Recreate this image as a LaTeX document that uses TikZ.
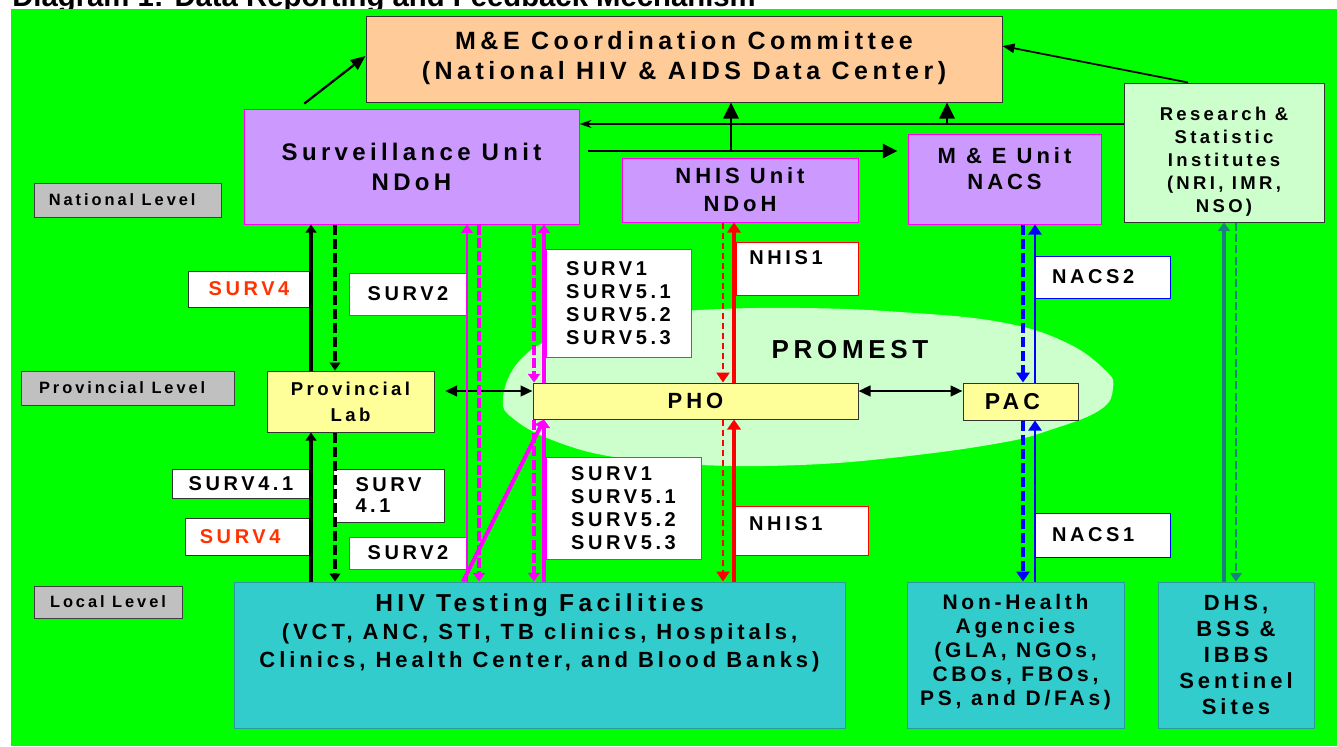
\documentclass[tikz,border=0pt]{standalone}
\usepackage{fontspec}
\setmainfont{Liberation Sans}
\newfontfamily\lsf{Liberation Sans}[LetterSpace=18]
\usetikzlibrary{arrows.meta}
\newcommand\fpx[2]{\fontsize{\dimexpr #1pt*3/4\relax}{\dimexpr #2pt*3/4\relax}\selectfont}
\newcommand\dn[1]{\rule[-#1]{0pt}{#1}}
\newcommand\upr[1]{\rule{0pt}{#1}}
\newcommand\padr[1]{\rule{#1}{0pt}}
\definecolor{bg}{HTML}{00FF00}
\definecolor{peach}{HTML}{FFCC99}
\definecolor{lav}{HTML}{CC99FF}
\definecolor{mint}{HTML}{CCFFCC}
\definecolor{lemon}{HTML}{FFFF99}
\definecolor{aqua}{HTML}{33CCCC}
\definecolor{aquaedge}{HTML}{2A9A9A}
\definecolor{grayb}{HTML}{C0C0C0}
\definecolor{mag}{HTML}{FF00FF}
\definecolor{redo}{HTML}{FF3300}
\definecolor{tealar}{HTML}{1A8080}
\definecolor{pureblue}{HTML}{0000FF}
\definecolor{purered}{HTML}{FF0000}
\begin{document}
\begin{tikzpicture}[x=0.75pt,y=-0.75pt,
  wh/.style 2 args={minimum width=#1*0.75pt, minimum height=#2*0.75pt},
  bx/.style={draw, inner sep=0pt, align=center, line width=0.75pt},
  bigbox/.style={bx, fill=lav, draw=mag},
  lvl/.style={bx, fill=grayb, draw=black!75, font=\lsf\bfseries\fpx{16.4}{20}},
  yel/.style={bx, fill=lemon, draw=black!80},
  aq/.style={bx, fill=aqua, draw=aquaedge},
  lbl/.style={bx, fill=white, font=\lsf\bfseries\fpx{20}{23}},
  tA/.style={-{Triangle[length=6pt,width=8pt]}},
  tM/.style={-{Triangle[length=6.5pt,width=9pt]}},
  tR/.style={-{Triangle[length=7.5pt,width=10pt]}},
  blk/.style={line width=2.6pt, tA},
  blkdash/.style={line width=2.4pt, dash pattern=on 7.5pt off 3pt, tA},
  magthin/.style={draw=mag, line width=0.8pt, tM},
  magthick/.style={draw=mag, line width=2.4pt, tM},
  magdash/.style={draw=mag, line width=3pt, dash pattern=on 7.5pt off 2.5pt, tM},
  reddash/.style={draw=purered, line width=0.8pt, dash pattern=on 5pt off 2.5pt, tR},
  redthick/.style={draw=purered, line width=3pt, tR},
  bluedash/.style={draw=pureblue, line width=3pt, dash pattern=on 7.5pt off 3pt, tR},
  bluethin/.style={draw=pureblue, line width=0.9pt, tR},
  tealthick/.style={draw=tealar, line width=3.6pt, -{Triangle[length=6.5pt,width=9pt]}},
  tealdash/.style={draw=tealar, line width=1pt, dash pattern=on 6pt off 2.5pt, -{Triangle[length=6.5pt,width=9pt]}},
  dbl/.style={line width=1.8pt, {Triangle[length=9pt,width=8pt]}-{Triangle[length=9pt,width=8pt]}}
]
\useasboundingbox (0,0) rectangle (1337,746);
\fill[white] (0,0) rectangle (1337,746);
\node[anchor=base west, inner sep=0pt, font=\bfseries\fpx{29.3}{32}] (title) at (12,7) {Diagram 1: Data Reporting and Feedback Mechanism};
\fill[bg] (11,9) rectangle (1337,746);
\fill[mint] plot[smooth cycle, tension=0.7] coordinates {(503,398) (520,360) (560,335) (620,318) (700,310) (800,308) (900,312) (1000,322) (1065,342) (1105,370) (1113,388) (1100,410) (1050,430) (1000,443) (900,457) (800,465) (700,465) (620,458) (560,443) (515,420)};
\node[font=\lsf\bfseries\fpx{26}{30}] (promest) at (850,350) {PROMEST};

% main boxes
\node[bx, fill=peach, draw=black!80, wh={636}{86}, font=\lsf\bfseries\fpx{25}{30}] (mec) at (684,59) {M\&E Coordination Committee\\(National HIV \& AIDS Data Center)\dn{6pt}};
\node[bigbox, wh={335}{115}, font=\lsf\bfseries\fpx{24}{30}] (surv) at (411.5,166.5) {Surveillance Unit\\NDoH};
\node[bigbox, wh={236}{64}, font=\lsf\bfseries\fpx{22}{28}] (nhis) at (740,190) {NHIS Unit\\NDoH};
\node[bigbox, wh={193}{90}, font=\lsf\bfseries\fpx{22}{26}] (meu) at (1004.5,179) {M \& E Unit\\NACS\dn{16pt}};
\node[bx, fill=mint, draw=black!80, wh={200}{139}, font=\lsf\bfseries\fpx{18.5}{23}] (res) at (1224,152.5) {\upr{24pt}Research \&\\Statistic\\Institutes\\(NRI, IMR,\\NSO)};

\node[lvl, wh={187}{34}] (natl) at (127.5,200) {National Level\padr{8pt}};
\node[lvl, wh={213}{34}] (provl) at (127.5,388) {Provincial Level\padr{8pt}};
\node[lvl, wh={148}{32}] (locl) at (108,602) {Local Level};

\node[yel, wh={167}{61}, font=\lsf\bfseries\fpx{18.6}{26}] (lab) at (350.5,401.5) {Provincial\\Lab};
\node[yel, wh={325}{36}, font=\lsf\bfseries\fpx{22}{26}] (pho) at (695.5,401) {PHO};
\node[yel, wh={115}{37}, font=\lsf\bfseries\fpx{23}{26}] (pac) at (1020.5,401.5) {PAC\padr{12pt}};

\node[aq, wh={611}{146}, font=\lsf\bfseries\fpx{22}{28}] (hiv) at (539.5,655) {{\fpx{24.5}{28}HIV Testing Facilities}\\(VCT, ANC, STI, TB clinics, Hospitals,\\Clinics, Health Center, and Blood Banks)\dn{37pt}};
\node[aq, wh={217}{146}, font=\lsf\bfseries\fpx{21}{24}] (nonh) at (1015.5,655) {Non-Health\\Agencies\\(GLA, NGOs,\\CBOs, FBOs,\\PS, and D/FAs)\dn{7pt}};
\node[aq, wh={156}{146}, font=\lsf\bfseries\fpx{22}{26}] (dhs) at (1236,655) {DHS,\\BSS \&\\IBBS\\Sentinel\\Sites};

% labels
\node[lbl, draw=black!80, text=redo, wh={122}{36}] (s4a) at (249,289) {SURV4};
\node[lbl, draw=mag, wh={118}{42}] (s2a) at (408,294) {SURV2};
\node[lbl, draw=mag, wh={145}{108}, align=left] (s1a) at (618.5,303) {SURV1\\SURV5.1\\SURV5.2\\SURV5.3};
\node[lbl, draw=purered, wh={122}{53}] (nh1a) at (797,268.5) {NHIS1\padr{16.5pt}\dn{17pt}};
\node[lbl, draw=pureblue, wh={135}{42}] (nc2) at (1102.5,277) {NACS2\padr{14pt}};
\node[lbl, draw=black!80, wh={138}{29}] (s41a) at (241,483.5) {SURV4.1};
\node[lbl, draw=black!80, text=redo, wh={125}{37}] (s4b) at (247.5,536.5) {SURV4\padr{11pt}};
\node[lbl, draw=black!80, wh={111}{53}, align=left, font=\lsf\bfseries\fpx{20}{21}] (s41b) at (388.5,495.5) {SURV\\4.1};
\node[lbl, draw=mag, wh={118}{32}] (s2b) at (408,553) {SURV2};
\node[lbl, draw=mag, wh={155}{102}, align=left] (s1b) at (623.5,508) {SURV1\\SURV5.1\\SURV5.2\\SURV5.3};
\node[lbl, draw=purered, wh={135}{49}] (nh1b) at (800.5,530.5) {NHIS1\padr{22pt}\dn{11pt}};
\node[lbl, draw=pureblue, wh={135}{44}] (nc1) at (1102.5,535) {NACS1\padr{14pt}};

% guide coordinates
\coordinate (xa) at (311,0); \coordinate (xb) at (335,0);
\coordinate (xc) at (467,0); \coordinate (xd) at (479,0);
\coordinate (xe) at (534,0); \coordinate (xf) at (544,0);
\coordinate (xg) at (723,0); \coordinate (xh) at (734,0);
\coordinate (xi) at (1023,0); \coordinate (xj) at (1035,0);
\coordinate (xk) at (1224,0); \coordinate (xl) at (1236,0);
\coordinate (xm) at (731,0); \coordinate (xn) at (947,0);
\coordinate (xo) at (463,0); \coordinate (xp) at (1188,0);
\coordinate (xq) at (298,0);
\coordinate (ya) at (0,124); \coordinate (yb) at (0,151);
\coordinate (yc) at (0,391); \coordinate (yd) at (0,56); \coordinate (ye) at (0,46);

% top connectors
\draw[line width=1.7pt, -{Triangle[length=11pt,width=9pt]}, shorten <=6pt] (surv.north -| xq) -- (mec.west |- yd);
\draw[line width=1.3pt, -{Triangle[length=9pt,width=7pt]}] (res.north -| xp) -- (mec.east |- ye);
\draw[line width=2.2pt, -{Stealth[length=9pt,width=6pt]}] (res.west |- ya) -- (surv.east |- ya);
\draw[line width=1.7pt, -{Triangle[length=12pt,width=11.5pt]}] (xn |- ya) -- (mec.south -| xn);
\draw[line width=1.8pt, -{Triangle[length=11pt,width=10.5pt]}, shorten <=6pt, shorten >=7.5pt] (surv.east |- yb) -- (meu.west |- yb);
\draw[line width=1.7pt, -{Triangle[length=12pt,width=11.5pt]}] (xm |- yb) -- (mec.south -| xm);

% black verticals
\draw[blk] (lab.north -| xa) -- (surv.south -| xa);
\draw[blkdash] (surv.south -| xb) -- (lab.north -| xb);
\draw[blk] (hiv.north -| xa) -- (lab.south -| xa);
\draw[blkdash] (lab.south -| xb) -- (hiv.north -| xb);

% horizontal double arrows
\draw[dbl, shorten <=8pt] (lab.east |- yc) -- (pho.west |- yc);
\draw[dbl] (pho.east |- yc) -- (pac.west |- yc);

% magenta
\draw[magthin] (hiv.north -| xc) -- (surv.south -| xc);
\draw[magdash] (surv.south -| xd) -- (hiv.north -| xd);
\draw[magdash] (surv.south -| xe) -- (pho.north -| xe);
\draw[magthick] (pho.north -| xf) -- (surv.south -| xf);
\draw[magdash] (pho.south -| xe) -- (hiv.north -| xe);
\draw[magthick] (hiv.north -| xf) -- (pho.south -| xf);
\draw[magthick, line width=3pt] (hiv.north -| xo) -- (pho.south -| xf);

% red
\draw[reddash] (nhis.south -| xg) -- (pho.north -| xg);
\draw[redthick] (pho.north -| xh) -- (nhis.south -| xh);
\draw[reddash] (pho.south -| xg) -- (hiv.north -| xg);
\draw[redthick] (hiv.north -| xh) -- (pho.south -| xh);

% blue
\draw[bluedash] (meu.south -| xi) -- (pac.north -| xi);
\draw[bluethin] (pac.north -| xj) -- (meu.south -| xj);
\draw[bluedash] (pac.south -| xi) -- (nonh.north -| xi);
\draw[bluethin] (nonh.north -| xj) -- (pac.south -| xj);

% teal
\draw[tealthick] (dhs.north -| xk) -- (res.south -| xk);
\draw[tealdash] (res.south -| xl) -- (dhs.north -| xl);
\end{tikzpicture}
\end{document}
